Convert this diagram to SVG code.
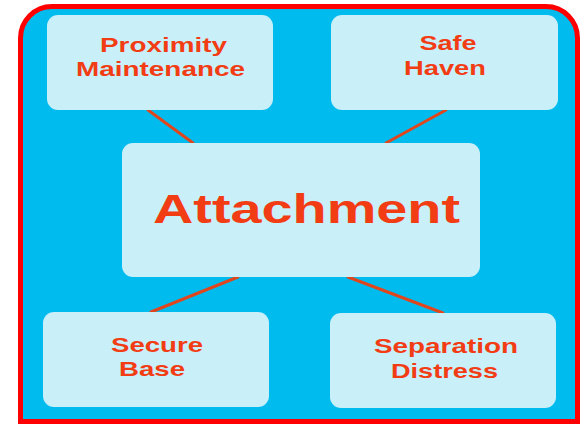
<svg xmlns="http://www.w3.org/2000/svg" width="583" height="424" viewBox="0 0 583 424">
  <style>
    .box { fill: #c9eff9; }
    .lbl { font-family: "Liberation Sans", Arial, sans-serif; font-weight: bold; fill: #f23c14; text-anchor: middle; }
    .s { font-size: 21px; }
    .big { font-size: 40px; }
    .conn { stroke: #e0461e; stroke-width: 3; stroke-linecap: round; }
  </style>
  <rect width="583" height="424" fill="#ffffff"/>
  <path id="frame" d="M20.5,421.5 V38 A31.5,31.5 0 0 1 52,6.5 H546 A31.5,31.5 0 0 1 577.5,38 V421.5 Z" fill="#00bcee" stroke="#ff0000" stroke-width="5"/>
  <g id="connectors">
    <line class="conn" x1="148" y1="110" x2="193" y2="143"/>
    <line class="conn" x1="446" y1="110" x2="386" y2="143"/>
    <line class="conn" x1="238" y1="277" x2="151" y2="312"/>
    <line class="conn" x1="348" y1="277" x2="443" y2="313"/>
  </g>
  <g id="proximity">
    <rect class="box" x="47" y="15" width="226" height="95" rx="11"/>
    <text class="lbl s" x="163.5" y="52" textLength="127" lengthAdjust="spacingAndGlyphs">Proximity</text>
    <text class="lbl s" x="160.5" y="76" textLength="169" lengthAdjust="spacingAndGlyphs">Maintenance</text>
  </g>
  <g id="safe">
    <rect class="box" x="331" y="15" width="227" height="95" rx="11"/>
    <text class="lbl s" x="448" y="50" textLength="57" lengthAdjust="spacingAndGlyphs">Safe</text>
    <text class="lbl s" x="445" y="75" textLength="82" lengthAdjust="spacingAndGlyphs">Haven</text>
  </g>
  <g id="attachment">
    <rect class="box" x="122" y="143" width="358" height="134" rx="11"/>
    <text class="lbl big" x="306.5" y="223" textLength="307" lengthAdjust="spacingAndGlyphs">Attachment</text>
  </g>
  <g id="secure">
    <rect class="box" x="43" y="312" width="226" height="95" rx="11"/>
    <text class="lbl s" x="157" y="352" textLength="92" lengthAdjust="spacingAndGlyphs">Secure</text>
    <text class="lbl s" x="152" y="376" textLength="66" lengthAdjust="spacingAndGlyphs">Base</text>
  </g>
  <g id="separation">
    <rect class="box" x="330" y="313" width="226" height="95" rx="11"/>
    <text class="lbl s" x="446" y="353" textLength="144" lengthAdjust="spacingAndGlyphs">Separation</text>
    <text class="lbl s" x="444.5" y="378" textLength="107" lengthAdjust="spacingAndGlyphs">Distress</text>
  </g>
</svg>
